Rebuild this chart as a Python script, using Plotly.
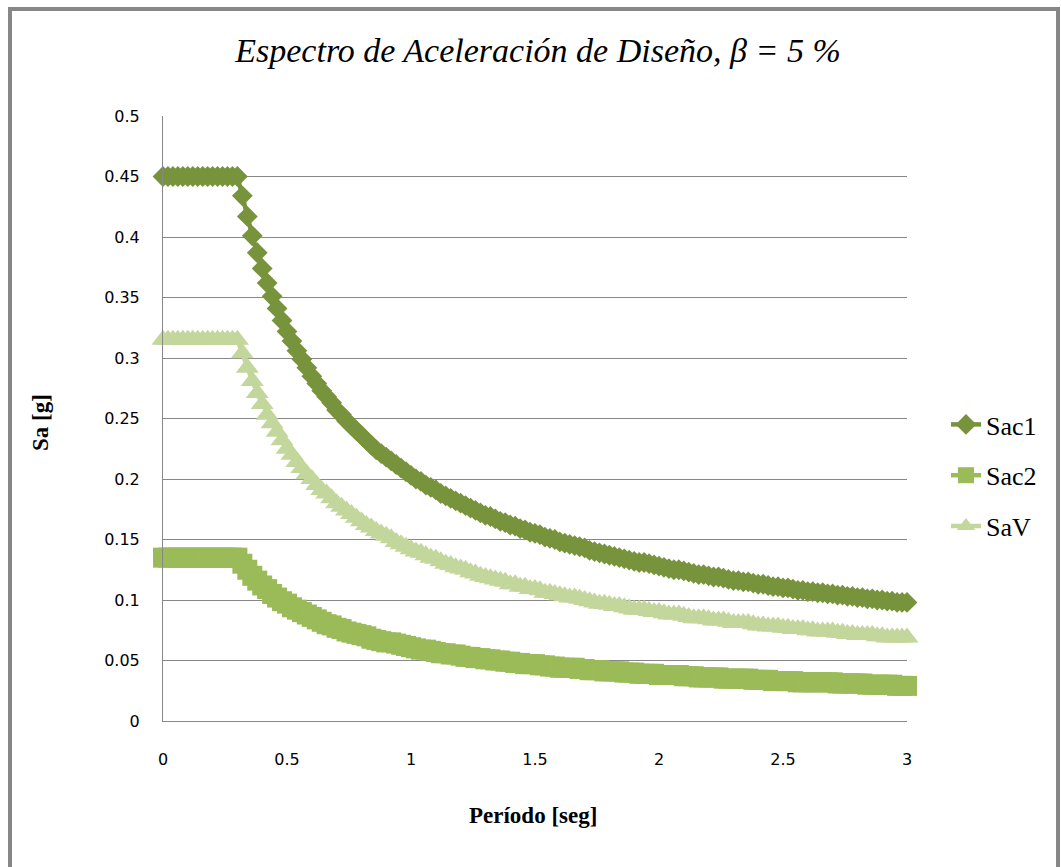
import plotly.graph_objects as go

# Period (s)
periodo = [
    0.00, 0.02, 0.04, 0.06, 0.08, 0.10, 0.12, 0.14, 0.16, 0.18,
    0.20, 0.22, 0.24, 0.26, 0.28, 0.30, 0.32, 0.34, 0.36, 0.38,
    0.40, 0.42, 0.44, 0.46, 0.48, 0.50, 0.52, 0.54, 0.56, 0.58,
    0.60, 0.62, 0.64, 0.66, 0.68, 0.70, 0.72, 0.74, 0.76, 0.78,
    0.80, 0.82, 0.84, 0.86, 0.88, 0.90, 0.92, 0.94, 0.96, 0.98,
    1.00, 1.02, 1.04, 1.06, 1.08, 1.10, 1.12, 1.14, 1.16, 1.18,
    1.20, 1.22, 1.24, 1.26, 1.28, 1.30, 1.32, 1.34, 1.36, 1.38,
    1.40, 1.42, 1.44, 1.46, 1.48, 1.50, 1.52, 1.54, 1.56, 1.58,
    1.60, 1.62, 1.64, 1.66, 1.68, 1.70, 1.72, 1.74, 1.76, 1.78,
    1.80, 1.82, 1.84, 1.86, 1.88, 1.90, 1.92, 1.94, 1.96, 1.98,
    2.00, 2.02, 2.04, 2.06, 2.08, 2.10, 2.12, 2.14, 2.16, 2.18,
    2.20, 2.22, 2.24, 2.26, 2.28, 2.30, 2.32, 2.34, 2.36, 2.38,
    2.40, 2.42, 2.44, 2.46, 2.48, 2.50, 2.52, 2.54, 2.56, 2.58,
    2.60, 2.62, 2.64, 2.66, 2.68, 2.70, 2.72, 2.74, 2.76, 2.78,
    2.80, 2.82, 2.84, 2.86, 2.88, 2.90, 2.92, 2.94, 2.96, 2.98,
    3.00,
]

# Horizontal spectral acceleration, component 1 (g)
sac1 = [
    0.450, 0.450, 0.450, 0.450, 0.450, 0.450, 0.450, 0.450, 0.450, 0.450,
    0.450, 0.450, 0.450, 0.450, 0.450, 0.450, 0.434, 0.417, 0.401, 0.387,
    0.374, 0.362, 0.351, 0.341, 0.331, 0.322, 0.314, 0.306, 0.299, 0.292,
    0.285, 0.279, 0.273, 0.268, 0.263, 0.257, 0.253, 0.248, 0.244, 0.240,
    0.236, 0.232, 0.228, 0.224, 0.221, 0.218, 0.215, 0.212, 0.209, 0.206,
    0.203, 0.200, 0.198, 0.195, 0.193, 0.191, 0.188, 0.186, 0.184, 0.182,
    0.180, 0.178, 0.176, 0.174, 0.172, 0.170, 0.169, 0.167, 0.165, 0.164,
    0.162, 0.161, 0.159, 0.158, 0.156, 0.155, 0.154, 0.152, 0.151, 0.150,
    0.148, 0.147, 0.146, 0.145, 0.144, 0.143, 0.141, 0.140, 0.139, 0.138,
    0.137, 0.136, 0.135, 0.134, 0.133, 0.132, 0.131, 0.131, 0.130, 0.129,
    0.128, 0.127, 0.126, 0.125, 0.125, 0.124, 0.123, 0.122, 0.121, 0.121,
    0.120, 0.119, 0.119, 0.118, 0.117, 0.116, 0.116, 0.115, 0.115, 0.114,
    0.113, 0.113, 0.112, 0.111, 0.111, 0.110, 0.110, 0.109, 0.108, 0.108,
    0.107, 0.107, 0.106, 0.106, 0.105, 0.105, 0.104, 0.104, 0.103, 0.103,
    0.102, 0.102, 0.101, 0.101, 0.100, 0.100, 0.099, 0.099, 0.098, 0.098,
    0.098,
]

# Horizontal spectral acceleration, component 2 (g)
sac2 = [
    0.135, 0.135, 0.135, 0.135, 0.135, 0.135, 0.135, 0.135, 0.135, 0.135,
    0.135, 0.135, 0.135, 0.135, 0.135, 0.135, 0.130, 0.125, 0.120, 0.116,
    0.112, 0.109, 0.105, 0.102, 0.099, 0.097, 0.094, 0.092, 0.090, 0.088,
    0.086, 0.084, 0.082, 0.080, 0.079, 0.077, 0.076, 0.074, 0.073, 0.072,
    0.071, 0.070, 0.068, 0.067, 0.066, 0.065, 0.065, 0.064, 0.063, 0.062,
    0.061, 0.060, 0.059, 0.059, 0.058, 0.057, 0.056, 0.056, 0.055, 0.055,
    0.054, 0.053, 0.053, 0.052, 0.052, 0.051, 0.051, 0.050, 0.050, 0.049,
    0.049, 0.048, 0.048, 0.047, 0.047, 0.047, 0.046, 0.046, 0.045, 0.045,
    0.044, 0.044, 0.044, 0.044, 0.043, 0.043, 0.042, 0.042, 0.042, 0.041,
    0.041, 0.041, 0.041, 0.040, 0.040, 0.040, 0.039, 0.039, 0.039, 0.039,
    0.038, 0.038, 0.038, 0.038, 0.038, 0.037, 0.037, 0.037, 0.036, 0.036,
    0.036, 0.036, 0.036, 0.035, 0.035, 0.035, 0.035, 0.035, 0.035, 0.034,
    0.034, 0.034, 0.034, 0.033, 0.033, 0.033, 0.033, 0.033, 0.032, 0.032,
    0.032, 0.032, 0.032, 0.032, 0.032, 0.032, 0.031, 0.031, 0.031, 0.031,
    0.031, 0.031, 0.030, 0.030, 0.030, 0.030, 0.030, 0.030, 0.029, 0.029,
    0.029,
]

# Vertical spectral acceleration (g)
sav = [
    0.315, 0.315, 0.315, 0.315, 0.315, 0.315, 0.315, 0.315, 0.315, 0.315,
    0.315, 0.315, 0.315, 0.315, 0.315, 0.315, 0.304, 0.292, 0.281, 0.271,
    0.262, 0.253, 0.246, 0.239, 0.232, 0.225, 0.220, 0.214, 0.209, 0.204,
    0.200, 0.195, 0.191, 0.188, 0.184, 0.180, 0.177, 0.174, 0.171, 0.168,
    0.165, 0.162, 0.160, 0.157, 0.155, 0.153, 0.151, 0.148, 0.146, 0.144,
    0.142, 0.140, 0.139, 0.137, 0.135, 0.134, 0.132, 0.130, 0.129, 0.127,
    0.126, 0.125, 0.123, 0.122, 0.120, 0.119, 0.118, 0.117, 0.116, 0.115,
    0.113, 0.113, 0.111, 0.111, 0.109, 0.109, 0.108, 0.106, 0.106, 0.105,
    0.104, 0.103, 0.102, 0.102, 0.101, 0.100, 0.099, 0.098, 0.097, 0.097,
    0.096, 0.095, 0.095, 0.094, 0.093, 0.092, 0.092, 0.092, 0.091, 0.090,
    0.090, 0.089, 0.088, 0.088, 0.088, 0.087, 0.086, 0.085, 0.085, 0.085,
    0.084, 0.083, 0.083, 0.083, 0.082, 0.081, 0.081, 0.081, 0.081, 0.080,
    0.079, 0.079, 0.078, 0.078, 0.078, 0.077, 0.077, 0.076, 0.076, 0.076,
    0.075, 0.075, 0.074, 0.074, 0.074, 0.074, 0.073, 0.073, 0.072, 0.072,
    0.071, 0.071, 0.071, 0.071, 0.070, 0.070, 0.069, 0.069, 0.069, 0.069,
    0.069,
]

y_ticks = [0, 0.05, 0.1, 0.15, 0.2, 0.25, 0.3, 0.35, 0.4, 0.45, 0.5]
y_tick_text = ["0", "0.05", "0.1", "0.15", "0.2", "0.25", "0.3", "0.35", "0.4", "0.45", "0.5"]
x_ticks = [0, 0.5, 1, 1.5, 2, 2.5, 3]
x_tick_text = ["0", "0.5", "1", "1.5", "2", "2.5", "3"]

SERIF = "Liberation Serif, Times New Roman, serif"
SANS = "DejaVu Sans, Verdana, sans-serif"
GRID = "#878787"

fig = go.Figure()

series = [
    ("Sac1", sac1, "#77933C", "diamond", 16),
    ("Sac2", sac2, "#9BBB59", "square", 20),
    ("SaV", sav, "#C3D69B", "triangle-up", 20),
]
for name, vals, color, symbol, size in series:
    fig.add_trace(go.Scatter(
        x=periodo, y=vals, name=name, mode="lines+markers",
        line=dict(color=color, width=4.5),
        marker=dict(symbol=symbol, size=size, color=color, line=dict(width=0)),
        cliponaxis=False, legendgroup=name,
    ))

W, H = 1061, 867
L, R, T, B = 163, 154, 116, 146
pw, ph = W - L - R, H - T - B


def px_x(px):
    return (px - L) / pw


def px_y(py):
    return (H - B - py) / ph


fig.update_layout(
    width=W, height=H,
    margin=dict(l=L, r=R, t=T, b=B),
    paper_bgcolor="white", plot_bgcolor="white",
    title=dict(
        text="<i>Espectro de Aceleración de Diseño, β = 5 %</i>",
        font=dict(family=SERIF, size=34, color="black"),
        x=538 / W, xanchor="center", y=1 - 50 / H, yanchor="middle",
    ),
    xaxis=dict(
        range=[0, 3], tickvals=x_ticks, ticktext=x_tick_text,
        showgrid=False, zeroline=False,
        showline=True, linecolor=GRID, linewidth=1,
        ticks="", ticklabelstandoff=24,
        tickfont=dict(family=SANS, size=16, color="black"),
    ),
    yaxis=dict(
        range=[0, 0.5], tickvals=y_ticks, ticktext=y_tick_text,
        showgrid=True, gridcolor=GRID, gridwidth=1, zeroline=False,
        showline=True, linecolor=GRID, linewidth=1,
        ticks="", ticklabelstandoff=19,
        tickfont=dict(family=SANS, size=16, color="black"),
    ),
    legend=dict(
        x=px_x(946), xanchor="left", y=px_y(401), yanchor="top",
        font=dict(family=SERIF, size=26, color="black"),
        traceorder="grouped", tracegroupgap=14,
        bgcolor="rgba(0,0,0,0)", borderwidth=0,
    ),
    showlegend=True,
)

# axis titles
fig.add_annotation(
    text="<b>Sa [g]</b>", xref="paper", yref="paper",
    x=px_x(40), y=px_y(423), xanchor="center", yanchor="middle",
    showarrow=False, textangle=-90,
    font=dict(family=SERIF, size=23, color="black"),
)
fig.add_annotation(
    text="<b>Período [seg]</b>", xref="paper", yref="paper",
    x=px_x(533), y=px_y(815), xanchor="center", yanchor="middle",
    showarrow=False,
    font=dict(family=SERIF, size=23, color="black"),
)

# chart-area frame
fig.add_shape(
    type="rect", xref="paper", yref="paper",
    x0=px_x(10), x1=px_x(1058), y0=px_y(880), y1=px_y(9),
    line=dict(color=GRID, width=4), fillcolor="rgba(0,0,0,0)", layer="below",
)

fig.write_html("out.html")
